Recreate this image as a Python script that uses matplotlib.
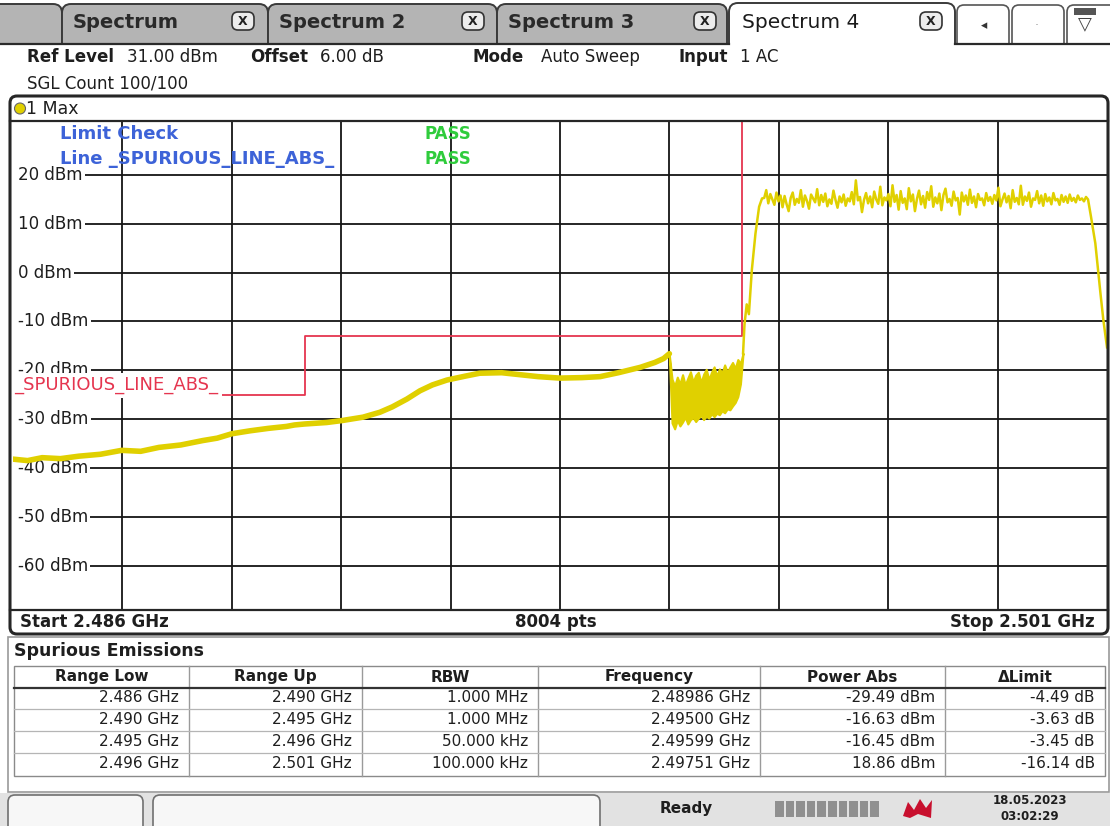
import numpy as np
import matplotlib.pyplot as plt
from matplotlib.patches import FancyBboxPatch, Rectangle, Circle, Polygon

plt.rcParams['font.family'] = ['DejaVu Sans']

W, H = 1110, 826

# sweep / display settings
f_start, f_stop = 2.486, 2.501          # GHz
ref_level, bottom_level = 31, -69       # dBm
x_div = [2.4875, 2.489, 2.4905, 2.492, 2.4935, 2.495, 2.4965, 2.498, 2.4995]
y_ticks = [20, 10, 0, -10, -20, -30, -40, -50, -60]

# limit line _SPURIOUS_LINE_ABS_
limit_f = [2.486, 2.490, 2.496, 2.501]
limit_v = [-25, -13, 35, 35]

# trace 1 (Max hold)
low_f = [2.48600, 2.48620, 2.48640, 2.48665, 2.48690, 2.48720, 2.48749, 2.48775,
         2.48800, 2.48830, 2.48860, 2.48880, 2.48900, 2.48925, 2.48950, 2.48975,
         2.48986, 2.49000, 2.49030, 2.49051, 2.49080, 2.49103, 2.49120, 2.49140,
         2.49158, 2.49175, 2.49195, 2.49220, 2.49240, 2.49270, 2.49295, 2.49320,
         2.49350, 2.49380, 2.49405, 2.49430, 2.49460, 2.49480, 2.49492, 2.49500]
low_v = [-38.2, -38.5, -37.9, -38.1, -37.6, -37.2, -36.4, -36.6,
         -35.8, -35.3, -34.4, -33.9, -33.0, -32.4, -31.9, -31.5,
         -31.2, -31.0, -30.7, -30.3, -29.6, -28.6, -27.5, -25.9,
         -24.2, -23.0, -22.0, -21.2, -20.6, -20.5, -20.9, -21.3,
         -21.6, -21.5, -21.3, -20.5, -19.4, -18.4, -17.6, -16.6]

# 2.495 - 2.496 GHz: trace jumps fast, shown as envelope
band_start, band_stop = 2.49500, 2.49601
band_hi = [-17.0, -21.8, -23.2, -21.4, -22.8, -20.9, -23.0, -21.6, -20.3, -22.4,
           -21.0, -20.4, -22.5, -20.8, -19.8, -21.9, -20.4, -19.3, -21.2, -19.7,
           -20.5, -18.9, -20.4, -19.3, -18.4, -19.6, -17.8, -18.6, -16.5]
band_lo = [-17.5, -30.8, -32.0, -30.2, -31.4, -30.6, -29.6, -31.0, -30.1, -29.7,
           -30.5, -29.8, -29.2, -30.1, -29.4, -29.8, -28.9, -29.5, -28.8, -29.1,
           -28.3, -28.7, -27.9, -28.1, -27.3, -26.6, -25.4, -22.8, -16.5]

rise_f = [2.49601, 2.49603, 2.49606, 2.49609, 2.49613, 2.49618, 2.49623, 2.49627]
rise_v = [-16.5, -10.5, -6.5, -8.5, 0.5, 8.0, 13.5, 15.2]

plateau_start, plateau_stop = 2.49630, 2.50074
plateau_v = [15.3, 16.9, 14.2, 16.1, 15.0, 13.9, 16.4, 14.6, 15.8, 13.4,
             15.7, 14.0, 12.6, 15.3, 16.4, 13.9, 15.1, 14.3, 16.9, 13.5,
             15.8, 14.7, 13.1, 16.0, 15.2, 14.4, 17.1, 13.8, 15.9, 14.5,
             16.2, 13.6, 15.0, 14.1, 16.8, 14.9, 13.3, 15.6, 14.4, 16.0,
             13.7, 15.2, 14.6, 16.5, 14.0, 18.9, 14.8, 15.5, 12.4, 14.9,
             16.3, 14.2, 15.6, 13.4, 16.6, 15.0, 14.1, 17.6, 13.8, 15.4,
             14.8, 16.1, 13.6, 17.9, 14.5, 15.9, 12.9, 16.7, 14.3, 15.2,
             13.0, 17.3, 14.6, 16.0, 12.6, 15.1, 16.8, 14.0, 15.7, 13.3,
             16.5, 14.9, 17.7, 13.5, 15.4, 14.2, 16.2, 12.8, 15.9, 17.2,
             14.4, 15.1, 13.7, 16.6, 14.8, 15.3, 11.9, 16.4, 14.6, 15.8,
             13.9, 17.0, 14.3, 15.6, 13.4, 16.1, 14.9, 15.2, 13.8, 16.3,
             14.7, 15.5, 14.1, 15.9, 14.8, 17.4, 13.6, 15.0, 16.2, 14.4,
             15.7, 13.2, 16.9, 14.5, 15.3, 14.0, 17.8, 13.9, 15.6, 14.7,
             16.4, 13.5, 15.2, 14.9, 16.7, 14.2, 15.8, 13.7, 16.1, 14.6,
             15.4, 14.0, 16.3, 14.8, 15.1, 13.9, 15.9, 14.5, 15.6, 14.3,
             16.0, 14.7, 15.3, 14.4, 15.8, 14.9, 15.2, 14.6, 15.5, 15.0]

drop_f = [2.50078, 2.50084, 2.50091, 2.50095, 2.50100]
drop_v = [11.5, 6.0, -4.2, -9.7, -15.3]

# spurious emissions result table
col_names = ['Range Low', 'Range Up', 'RBW', 'Frequency', 'Power Abs', '\u0394Limit']
range_low = ['2.486 GHz', '2.490 GHz', '2.495 GHz', '2.496 GHz']
range_up = ['2.490 GHz', '2.495 GHz', '2.496 GHz', '2.501 GHz']
rbw = ['1.000 MHz', '1.000 MHz', '50.000 kHz', '100.000 kHz']
peak_freq = ['2.48986 GHz', '2.49500 GHz', '2.49599 GHz', '2.49751 GHz']
power_abs = ['-29.49 dBm', '-16.63 dBm', '-16.45 dBm', '18.86 dBm']
delta_limit = ['-4.49 dB', '-3.63 dB', '-3.45 dB', '-16.14 dB']

YELLOW = '#e0d000'
RED = '#e5354f'
DARK = '#1e1e1e'

fig = plt.figure(figsize=(W / 100, H / 100), dpi=100)
fig.patch.set_facecolor('white')


def overlay(z):
    a = fig.add_axes([0, 0, 1, 1], zorder=z)
    a.set_xlim(0, W)
    a.set_ylim(H, 0)
    a.axis('off')
    return a


bg = overlay(0)
ui = overlay(3)

# ---------------- main trace window ----------------
top_px, bot_px, left_px, right_px = 121.3, 609.5, 13, 1107
ax = fig.add_axes([left_px / W, 1 - bot_px / H, (right_px - left_px) / W,
                   (bot_px - top_px) / H], zorder=1)
ax.set_xlim(f_start, f_stop)
ax.set_ylim(bottom_level, ref_level)
ax.set_facecolor('white')
for s in ax.spines.values():
    s.set_visible(False)
ax.set_xticks([])
ax.set_yticks([])

for xv in x_div:
    ax.axvline(xv, color='#151515', lw=1.3, zorder=1)
for yv in y_ticks:
    ax.axhline(yv, xmin=0.012, color='#151515', lw=1.3, zorder=1)
    ax.text(0.005, yv, f'{yv} dBm', transform=ax.get_yaxis_transform(),
            ha='left', va='center', fontsize=12, color=DARK, zorder=2.5,
            bbox=dict(fc='white', ec='none', pad=1.2))

ax.plot(limit_f, limit_v, drawstyle='steps-post', color=RED, lw=1.3, zorder=2)
ax.text(0.001, -23.1, '_SPURIOUS_LINE_ABS_', transform=ax.get_yaxis_transform(),
        ha='left', va='center', fontsize=13, color=RED, zorder=2.6,
        bbox=dict(fc='white', ec='none', pad=2.5))

ax.plot(low_f, low_v, color=YELLOW, lw=4, solid_capstyle='round', zorder=3)
band_f = np.linspace(band_start, band_stop, len(band_hi))
ax.fill_between(band_f, band_lo, band_hi, color=YELLOW, lw=1.5, zorder=3)
post_f = rise_f + list(np.linspace(plateau_start, plateau_stop, len(plateau_v))) + drop_f
post_v = rise_v + plateau_v + drop_v
ax.plot(post_f, post_v, color=YELLOW, lw=1.8, zorder=3)

# ---------------- tabs ----------------
bg.add_patch(Rectangle((0, 0), W, 46, fc='white', ec='none'))
tabs = [(-30, 62, ''), (62, 268, 'Spectrum'), (268, 497, 'Spectrum 2'), (497, 727, 'Spectrum 3')]
for x0, x1, name in tabs:
    bg.add_patch(FancyBboxPatch((x0, 4), x1 - x0, 60, boxstyle='round,pad=0,rounding_size=9',
                                fc='#b4b4b4', ec='#3a3a3a', lw=1.4))
bg.add_patch(FancyBboxPatch((729, 3), 226, 60, boxstyle='round,pad=0,rounding_size=9',
                            fc='white', ec='#3a3a3a', lw=1.4))
for x0 in [957, 1012, 1067]:
    bg.add_patch(FancyBboxPatch((x0, 5), 52 if x0 < 1067 else 50, 58,
                                boxstyle='round,pad=0,rounding_size=7',
                                fc='white', ec='#555555', lw=1.2))
bg.add_patch(Rectangle((0, 44), W, 750, fc='white', ec='none'))
bg.plot([0, 729], [44, 44], color='#2a2a2a', lw=1.6)
bg.plot([955, W], [44, 44], color='#2a2a2a', lw=1.6)

for x0, x1, name in tabs[1:]:
    ui.text(x0 + 11, 22, name, fontsize=14, fontweight='bold', color='#2a2a2a',
            ha='left', va='center')
ui.text(742, 22, 'Spectrum 4', fontsize=14.5, color='#1a1a1a', ha='left', va='center')
for xc in [243, 473, 705, 931]:
    ui.add_patch(FancyBboxPatch((xc - 11, 12), 22, 18, boxstyle='round,pad=0,rounding_size=6',
                                fc='#ececec', ec='#333333', lw=1.2))
    ui.text(xc, 21.5, 'X', fontsize=9, fontweight='bold', ha='center', va='center', color='#222')
ui.text(984, 26, '\u25c2', fontsize=9, ha='center', va='center', color='#333')
ui.text(1037, 26, '\u00b7', fontsize=9, ha='center', va='center', color='#999')
ui.add_patch(Rectangle((1074, 8), 22, 7, fc='#555555', ec='none'))
ui.text(1085, 24, '\u25bd', fontsize=13, ha='center', va='center', color='#444')

# ---------------- header ----------------
hdr = [(27, 'Ref Level', 'bold'), (127, '31.00 dBm', 'normal'),
       (250, 'Offset', 'bold'), (320, '6.00 dB', 'normal'),
       (472, 'Mode', 'bold'), (541, 'Auto Sweep', 'normal'),
       (679, 'Input', 'bold'), (740, '1 AC', 'normal')]
for x, s, w in hdr:
    ui.text(x, 57, s, fontsize=12, fontweight=w, color=DARK, ha='left', va='center')
ui.text(27, 83, 'SGL Count 100/100', fontsize=12, color=DARK, ha='left', va='center')

# ---------------- window frame ----------------
ui.add_patch(FancyBboxPatch((10, 96), 1098, 538, boxstyle='round,pad=0,rounding_size=7',
                            fill=False, ec='#262626', lw=2.2))
ui.plot([10, 1108], [top_px, top_px], color='#262626', lw=1.6)
ui.plot([10, 1108], [bot_px, bot_px], color='#262626', lw=1.6)
ui.add_patch(Circle((20, 108.5), 5.5, fc=YELLOW, ec='#666666', lw=0.8))
ui.text(26, 108.5, '1 Max', fontsize=12.5, color=DARK, ha='left', va='center')

ui.text(60, 134, 'Limit Check', fontsize=13, fontweight='bold', color='#3d63d8',
        ha='left', va='center')
ui.text(60, 159, 'Line _SPURIOUS_LINE_ABS_', fontsize=13, fontweight='bold', color='#3d63d8',
        ha='left', va='center')
ui.text(424, 134, 'PASS', fontsize=12, fontweight='bold', color='#2fcc3c', ha='left', va='center')
ui.text(424, 159, 'PASS', fontsize=12, fontweight='bold', color='#2fcc3c', ha='left', va='center')

ui.text(20, 622, f'Start {f_start:.3f} GHz', fontsize=12, fontweight='bold', color=DARK,
        ha='left', va='center')
ui.text(556, 622, '8004 pts', fontsize=12, fontweight='bold', color=DARK, ha='center', va='center')
ui.text(1095, 622, f'Stop {f_stop:.3f} GHz', fontsize=12, fontweight='bold', color=DARK,
        ha='right', va='center')

# ---------------- spurious emissions table ----------------
bg.add_patch(Rectangle((8, 637), 1101, 155, fc='white', ec='#9a9a9a', lw=1.2))
ui.text(14, 651, 'Spurious Emissions', fontsize=12.5, fontweight='bold', color=DARK,
        ha='left', va='center')
seps = [14, 189, 362, 538, 760, 945, 1105]
ui.add_patch(Rectangle((14, 666), 1091, 110, fill=False, ec='#8a8a8a', lw=1.0))
for x in seps[1:-1]:
    ui.plot([x, x], [666, 776], color='#9a9a9a', lw=1.0)
ui.plot([14, 1105], [688, 688], color='#333333', lw=1.6)
for y in [709, 731, 753]:
    ui.plot([14, 1105], [y, y], color='#b5b5b5', lw=0.9)
for i, name in enumerate(col_names):
    ui.text((seps[i] + seps[i + 1]) / 2, 677, name, fontsize=11, fontweight='bold',
            color=DARK, ha='center', va='center')
cols = [range_low, range_up, rbw, peak_freq, power_abs, delta_limit]
for i, col in enumerate(cols):
    for r, s in enumerate(col):
        ui.text(seps[i + 1] - 10, 698 + r * 22, s, fontsize=11, color=DARK,
                ha='right', va='center')

# ---------------- status bar ----------------
bg.add_patch(Rectangle((0, 793), W, 33, fc='#e2e2e2', ec='none'))
for x0, w in [(8, 135), (153, 447)]:
    bg.add_patch(FancyBboxPatch((x0, 795), w, 40, boxstyle='round,pad=0,rounding_size=7',
                                fc='#f7f7f7', ec='#707070', lw=1.2))
ui.text(686, 809, 'Ready', fontsize=11, fontweight='bold', color=DARK, ha='center', va='center')
for i in range(10):
    ui.add_patch(Rectangle((775 + i * 10.6, 801), 8.5, 16, fc='#909090', ec='none'))
ui.add_patch(Polygon([[903, 816], [908, 802], [914, 810], [920, 799], [926, 808],
                      [932, 800], [931, 818], [918, 814], [910, 818]],
                     closed=True, fc='#c8102e', ec='none'))
ui.text(1030, 801, '18.05.2023', fontsize=8.5, fontweight='bold', color=DARK, ha='center', va='center')
ui.text(1030, 817, '03:02:29', fontsize=8.5, fontweight='bold', color=DARK, ha='center', va='center')

fig.savefig('out.png', dpi=100)
